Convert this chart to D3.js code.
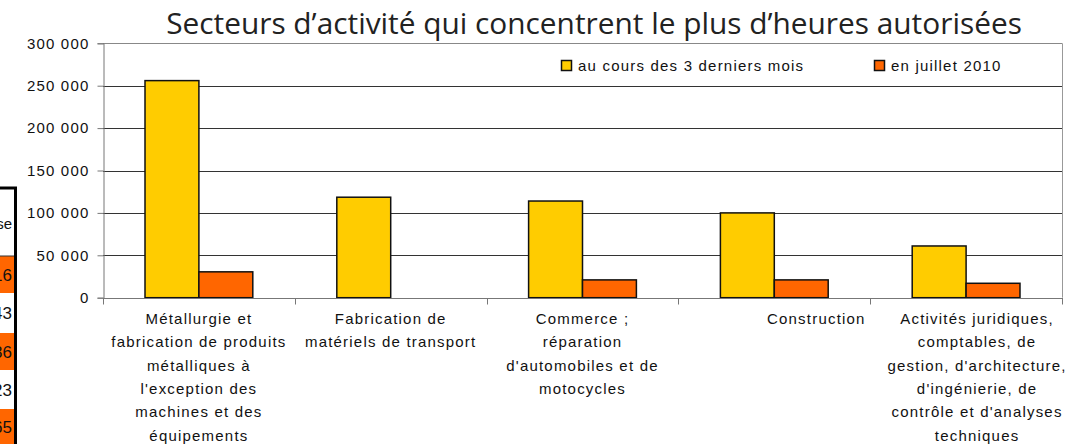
<!DOCTYPE html>
<html>
<head>
<meta charset="utf-8">
<script src="https://cdnjs.cloudflare.com/ajax/libs/d3/7.8.5/d3.min.js"></script>
<style>
  body { margin: 0; background: #fff; }
  svg { display: block; }
</style>
</head>
<body>
<svg id="chart" width="1073" height="444"></svg>
<script>
// data
var categoryLines = [
    ["Métallurgie et", "fabrication de produits", "métalliques à", "l'exception des", "machines et des", "équipements"],
    ["Fabrication de", "matériels de transport"],
    ["Commerce ;", "réparation", "d'automobiles et de", "motocycles"],
    ["Construction"],
    ["Activités juridiques,", "comptables, de", "gestion, d'architecture,", "d'ingénierie, de", "contrôle et d'analyses", "techniques"]
];
var seriesNames = ["au cours des 3 derniers mois", "en juillet 2010"];
var seriesColors = ["#FFCC00", "#FF6600"];
var troisDerniersMois = [256000, 118500, 114000, 100000, 61000];
var juillet2010 = [30500, null, 21000, 21000, 17000];
var yTicks = [0, 50000, 100000, 150000, 200000, 250000, 300000];
var titleText = "Secteurs d\u2019activité qui concentrent le plus d\u2019heures autorisées";

// bits of the neighbouring table cut off at the left edge
var sideHeader = "hausse";
var sideValues = ["16", "43", "36", "23", "65"];

var W = 1073, H = 444;
var plot = {left: 103, right: 1062, top: 43.3, bottom: 297.7};
var labelFont = "'Liberation Sans', Arial, sans-serif";
var labelNudge = [0, 0, 0, 42, 11];   // Excel put a couple of labels off centre

var svg = d3.select("#chart");
svg.append("rect").attr("width", W).attr("height", H).attr("fill", "#fff");

var fr = d3.formatLocale({decimal: ",", thousands: " ", grouping: [3], currency: ["", " €"]});
var fmt = fr.format(",d");

var categories = categoryLines.map(function (l) { return l.join(" "); });

var x = d3.scaleBand().domain(categories).range([plot.left, plot.right]).padding(0);
var xs = d3.scaleBand().domain(seriesNames)
    .range([x.bandwidth() * 0.219, x.bandwidth() * 0.781]).padding(0);
var y = d3.scaleLinear().domain([0, 300000]).range([plot.bottom, plot.top]);

// gridlines
svg.append("g").selectAll("line").data(yTicks.filter(function (d) { return d > 0; }))
    .enter().append("line")
    .attr("x1", plot.left).attr("x2", plot.right)
    .attr("y1", function (d) { return Math.round(y(d)) + 0.5; })
    .attr("y2", function (d) { return Math.round(y(d)) + 0.5; })
    .attr("stroke", function (d) { return d === 300000 ? "#888" : "#333"; })
    .attr("stroke-width", 1);

// right border of plot area
svg.append("line")
    .attr("x1", plot.right + 0.5).attr("x2", plot.right + 0.5)
    .attr("y1", plot.top).attr("y2", plot.bottom)
    .attr("stroke", "#999").attr("stroke-width", 1);

// bars
var rows = categories.map(function (c, i) {
    return {cat: c, values: [troisDerniersMois[i], juillet2010[i]]};
});
var groups = svg.append("g").selectAll("g").data(rows).enter().append("g")
    .attr("transform", function (d) { return "translate(" + x(d.cat) + ",0)"; });
groups.selectAll("rect")
    .data(function (d) {
        return d.values.map(function (v, k) { return {key: seriesNames[k], v: v, k: k}; })
            .filter(function (e) { return e.v != null; });
    })
    .enter().append("rect")
    .attr("x", function (d) { return xs(d.key); })
    .attr("width", xs.bandwidth())
    .attr("y", function (d) { return y(d.v); })
    .attr("height", function (d) { return y(0) - y(d.v); })
    .attr("fill", function (d) { return seriesColors[d.k]; })
    .attr("stroke", "#111").attr("stroke-width", 1.5);

// y axis
var yAxis = svg.append("g")
    .attr("transform", "translate(" + (plot.left + 0.5) + ",0)")
    .call(d3.axisLeft(y).tickValues(yTicks).tickFormat(fmt).tickSize(6).tickPadding(8));
yAxis.select(".domain").attr("stroke", "#777");
yAxis.selectAll(".tick line").attr("stroke", "#777");
yAxis.selectAll(".tick text")
    .attr("font-family", labelFont).attr("font-size", 15)
    .attr("letter-spacing", "1.2px").attr("fill", "#111");

// x axis
var xAxis = svg.append("g")
    .attr("transform", "translate(0," + (Math.round(plot.bottom) + 0.5) + ")");
xAxis.append("line")
    .attr("x1", plot.left).attr("x2", plot.right + 1)
    .attr("stroke", "#777");
var bounds = categories.map(function (c) { return x(c); }).concat([plot.right]);
xAxis.selectAll(".tk").data(bounds).enter().append("line")
    .attr("x1", function (d) { return Math.round(d) + 0.5; })
    .attr("x2", function (d) { return Math.round(d) + 0.5; })
    .attr("y1", 0).attr("y2", 6).attr("stroke", "#777");

// category labels
var labels = svg.append("g").selectAll("text").data(categoryLines).enter().append("text")
    .attr("font-family", labelFont).attr("font-size", 15)
    .attr("letter-spacing", "1.2px").attr("fill", "#111")
    .attr("text-anchor", "middle")
    .attr("transform", function (d, i) {
        return "translate(" + (x(categories[i]) + x.bandwidth() / 2 + labelNudge[i]) + ",324)";
    });
labels.selectAll("tspan").data(function (d) { return d; }).enter().append("tspan")
    .attr("x", 0).attr("y", function (d, j) { return j * 23.3; })
    .text(function (d) { return d; });

// legend
var legendX = [561, 874];
var leg = svg.append("g").selectAll("g").data(seriesNames).enter().append("g")
    .attr("transform", function (d, i) { return "translate(" + legendX[i] + ",60)"; });
leg.append("rect").attr("x", 0.5).attr("y", 0.5).attr("width", 10).attr("height", 10)
    .attr("fill", function (d, i) { return seriesColors[i]; })
    .attr("stroke", "#111").attr("stroke-width", 1.5);
leg.append("text").attr("x", 17).attr("y", 10.5)
    .attr("font-family", labelFont).attr("font-size", 15)
    .attr("letter-spacing", "1.2px").attr("fill", "#111")
    .text(function (d) { return d; });

// title
var title = svg.append("text")
    .attr("x", 594).attr("y", 34)
    .attr("text-anchor", "middle")
    .attr("font-family", "'Open Sans', 'DejaVu Sans', sans-serif")
    .attr("font-size", 27).attr("fill", "#222")
    .text(titleText);
var tw = title.node().getComputedTextLength();
title.attr("font-size", 27 * 856 / tw);

// the cut-off table on the left
var side = svg.append("g");
side.append("clipPath").attr("id", "sideClip")
    .append("rect").attr("x", 0).attr("y", 186).attr("width", 14).attr("height", 260);
var sideRows = [sideHeader].concat(sideValues);
var rowTops = [189, 256, 293, 333, 370, 409, 444];
var sideG = side.append("g").attr("clip-path", "url(#sideClip)");
sideG.selectAll("rect").data(sideRows).enter().append("rect")
    .attr("x", 0).attr("width", 14)
    .attr("y", function (d, i) { return rowTops[i]; })
    .attr("height", function (d, i) { return rowTops[i + 1] - rowTops[i]; })
    .attr("fill", function (d, i) { return i > 0 && i % 2 === 1 ? "#FF6600" : "#fff"; });
sideG.selectAll("text").data(sideRows).enter().append("text")
    .attr("x", 12)
    .attr("y", function (d, i) { return (rowTops[i] + rowTops[i + 1]) / 2 + 6; })
    .attr("text-anchor", "end")
    .attr("font-family", labelFont)
    .attr("font-size", function (d, i) { return i === 0 ? 15 : 17; })
    .attr("fill", "#111")
    .text(function (d) { return d; });
side.append("line").attr("x1", 0).attr("x2", 17).attr("y1", 188).attr("y2", 188)
    .attr("stroke", "#000").attr("stroke-width", 3);
side.append("line").attr("x1", 15.5).attr("x2", 15.5).attr("y1", 187).attr("y2", 444)
    .attr("stroke", "#000").attr("stroke-width", 3);
side.append("line").attr("x1", 0).attr("x2", 14).attr("y1", 256).attr("y2", 256)
    .attr("stroke", "#333").attr("stroke-width", 1);
</script>
</body>
</html>
